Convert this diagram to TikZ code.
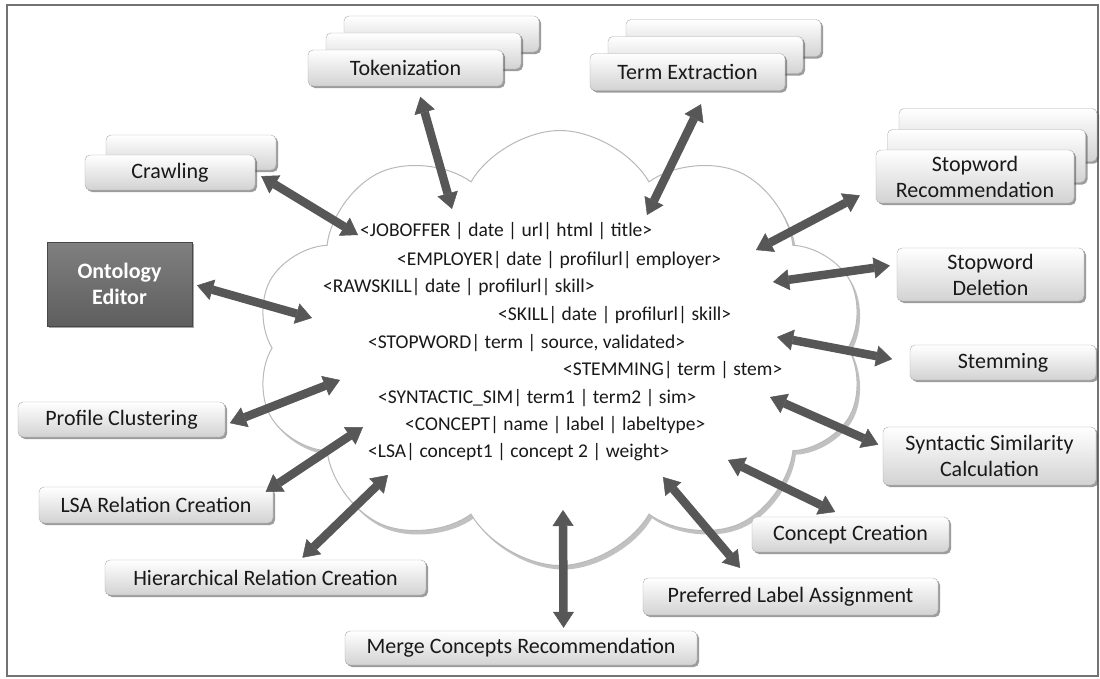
\documentclass[tikz,border=0pt]{standalone}
\usepackage{fontspec}
\setmainfont{Carlito}
\usetikzlibrary{shapes.symbols,shadows,arrows.meta}

\newcommand{\boxfont}{\fontsize{22}{26}\selectfont}
\newcommand{\tuplefont}{\fontsize{19.5}{22}\selectfont}
\pgfdeclareradialshading{cloudshade}{\pgfpoint{0bp}{0bp}}{color(0bp)=(white); color(30bp)=(white); color(43bp)=(black!8); color(50bp)=(black!30)}

\tikzset{
  procbox/.style={draw=gray!65, rounded corners=5pt, top color=white, bottom color=gray!35,
    text=black!90, font=\boxfont, align=center, inner sep=2pt, minimum height=36pt,
    drop shadow={shadow xshift=2pt, shadow yshift=-2pt, opacity=0.55, fill=black!70}},
  editorbox/.style={draw=black!72, top color=black!50, bottom color=black!63, text=white,
    font=\boxfont\bfseries, align=center, inner sep=2pt,
    drop shadow={shadow xshift=2pt, shadow yshift=-2pt, opacity=0.5, fill=black!70}},
  dblarrow/.style={draw=black!66, line width=8.5pt,
    {Triangle[width=21pt,length=16pt,line width=0.5pt]}-{Triangle[width=21pt,length=16pt,line width=0.5pt]}},
  tuple/.style={anchor=base west, inner sep=0pt, font=\tuplefont, text=black!90}
}

\begin{document}
\begin{tikzpicture}[x=1pt, y=-1pt]
    \useasboundingbox (0,0) rectangle (1100,678);
    \fill[white] (0,0) rectangle (1100,678);
    \draw[black!55, line width=1.5pt] (7,5) rectangle (1098,676);

    % Data store cloud
    \node[cloud, cloud puffs=10, cloud puff arc=120, cloud ignores aspect,
          minimum width=610pt, minimum height=435pt, draw=gray!55, line width=1pt,
          shading=cloudshade,
          drop shadow={shadow xshift=3pt, shadow yshift=-4pt, opacity=0.4, fill=black!60}]
          (store) at (560,348) {};

    % Tuples in the store
    \node[tuple] (t-job)   at (360,236) {<JOBOFFER | date | url| html | title>};
    \node[tuple] (t-emp)   at (397,265) {<EMPLOYER| date | profilurl| employer>};
    \node[tuple] (t-raw)   at (323,292) {<RAWSKILL| date | profilurl| skill>};
    \node[tuple] (t-skill) at (498,320) {<SKILL| date | profilurl| skill>};
    \node[tuple] (t-stop)  at (368,348) {<STOPWORD| term | source, validated>};
    \node[tuple] (t-stem)  at (563,375) {<STEMMING| term | stem>};
    \node[tuple] (t-syn)   at (378,403) {<SYNTACTIC\_SIM| term1 | term2 | sim>};
    \node[tuple] (t-conc)  at (405,430) {<CONCEPT| name | label | labeltype>};
    \node[tuple] (t-lsa)   at (368,457) {<LSA| concept1 | concept 2 | weight>};

    % Free ends of the connectors inside the cloud
    \coordinate (cA) at (358,235);
    \coordinate (cB) at (452,209);
    \coordinate (cC) at (647,215);
    \coordinate (cD) at (756,250);
    \coordinate (cE) at (773,282);
    \coordinate (cF) at (777,337);
    \coordinate (cG) at (770,397);
    \coordinate (cH) at (728,460);
    \coordinate (cI) at (663,477);
    \coordinate (cJ) at (563,510);
    \coordinate (cK) at (388,475);
    \coordinate (cL) at (363,427);
    \coordinate (cM) at (340,380);
    \coordinate (cN) at (312,318);

    % Stacked process boxes
    \node[procbox, minimum width=170pt, minimum height=35pt] (crawl2) at (191,152.5) {};
    \node[procbox, minimum width=170pt, minimum height=35pt] (crawl) at (170,172.5) {Crawling};

    \node[procbox, minimum width=195pt] (tok3) at (441.5,34) {};
    \node[procbox, minimum width=195pt] (tok2) at (423.5,51) {};
    \node[procbox, minimum width=195pt] (tok) at (405.5,68) {Tokenization};

    \node[procbox, minimum width=195pt, minimum height=37pt] (term3) at (723.5,38) {};
    \node[procbox, minimum width=195pt, minimum height=37pt] (term2) at (705.5,55) {};
    \node[procbox, minimum width=195pt, minimum height=37pt] (term) at (687.5,72) {Term Extraction};

    \node[procbox, minimum width=198pt, minimum height=53pt] (swrec3) at (998,135) {};
    \node[procbox, minimum width=198pt, minimum height=53pt] (swrec2) at (986.5,156) {};
    \node[procbox, minimum width=198pt, minimum height=53pt] (swrec) at (975,176.5) {Stopword\\Recommendation};

    % Single process boxes
    \node[procbox, minimum width=187pt, minimum height=53pt] (swdel) at (990.5,274.5) {Stopword\\Deletion};
    \node[procbox, minimum width=186pt, minimum height=35pt] (stem) at (1003,362.5) {Stemming};
    \node[procbox, minimum width=213pt, minimum height=58pt] (synsim) at (989.5,456) {Syntactic Similarity\\Calculation};
    \node[procbox, minimum width=197pt, minimum height=35pt] (concept) at (850.5,534.5) {Concept Creation};
    \node[procbox, minimum width=295pt, minimum height=37pt] (preflabel) at (790.5,596.5) {Preferred Label Assignment};
    \node[procbox, minimum width=352pt, minimum height=34pt] (merge) at (521,648) {Merge Concepts Recommendation};
    \node[procbox, minimum width=321pt, minimum height=35pt] (hier) at (265.5,577.5) {Hierarchical Relation Creation};
    \node[procbox, minimum width=234pt, minimum height=36pt] (lsa) at (156,505) {LSA Relation Creation};
    \node[procbox, minimum width=207pt, minimum height=35pt] (profclust) at (121.5,419.5) {Profile Clustering};
    \node[editorbox, minimum width=145pt, minimum height=84pt] (onto) at (119.5,284) {Ontology\\Editor};

    % Connectors
    \draw[dblarrow, shorten <=7pt]  (crawl.east) -- (cA);
    \draw[dblarrow, shorten <=11pt] (tok.-57) -- (cB);
    \draw[dblarrow, shorten <=15pt] (term.-43) -- (cC);
    \draw[dblarrow, shorten <=18pt] (swrec.186) -- (cD);
    \draw[dblarrow, shorten <=7pt]  (swdel.174) -- (cE);
    \draw[dblarrow, shorten <=18pt] (stem.west) -- (cF);
    \draw[dblarrow, shorten <=5pt]  (synsim.175) -- (cG);
    \draw[dblarrow, shorten <=11pt] (concept.107) -- (cH);
    \draw[dblarrow, shorten <=13pt] (preflabel.156) -- (cI);
    \draw[dblarrow, shorten <=3pt]  (merge.22) -- (cJ);
    \draw[dblarrow, shorten <=3pt]  (hier.27) -- (cK);
    \draw[dblarrow, shorten <=-9pt] (lsa.north east) -- (cL);
    \draw[dblarrow, shorten <=5pt]  (profclust.-3) -- (cM);
    \draw[dblarrow, shorten <=5pt]  (onto.east) -- (cN);
\end{tikzpicture}
\end{document}
